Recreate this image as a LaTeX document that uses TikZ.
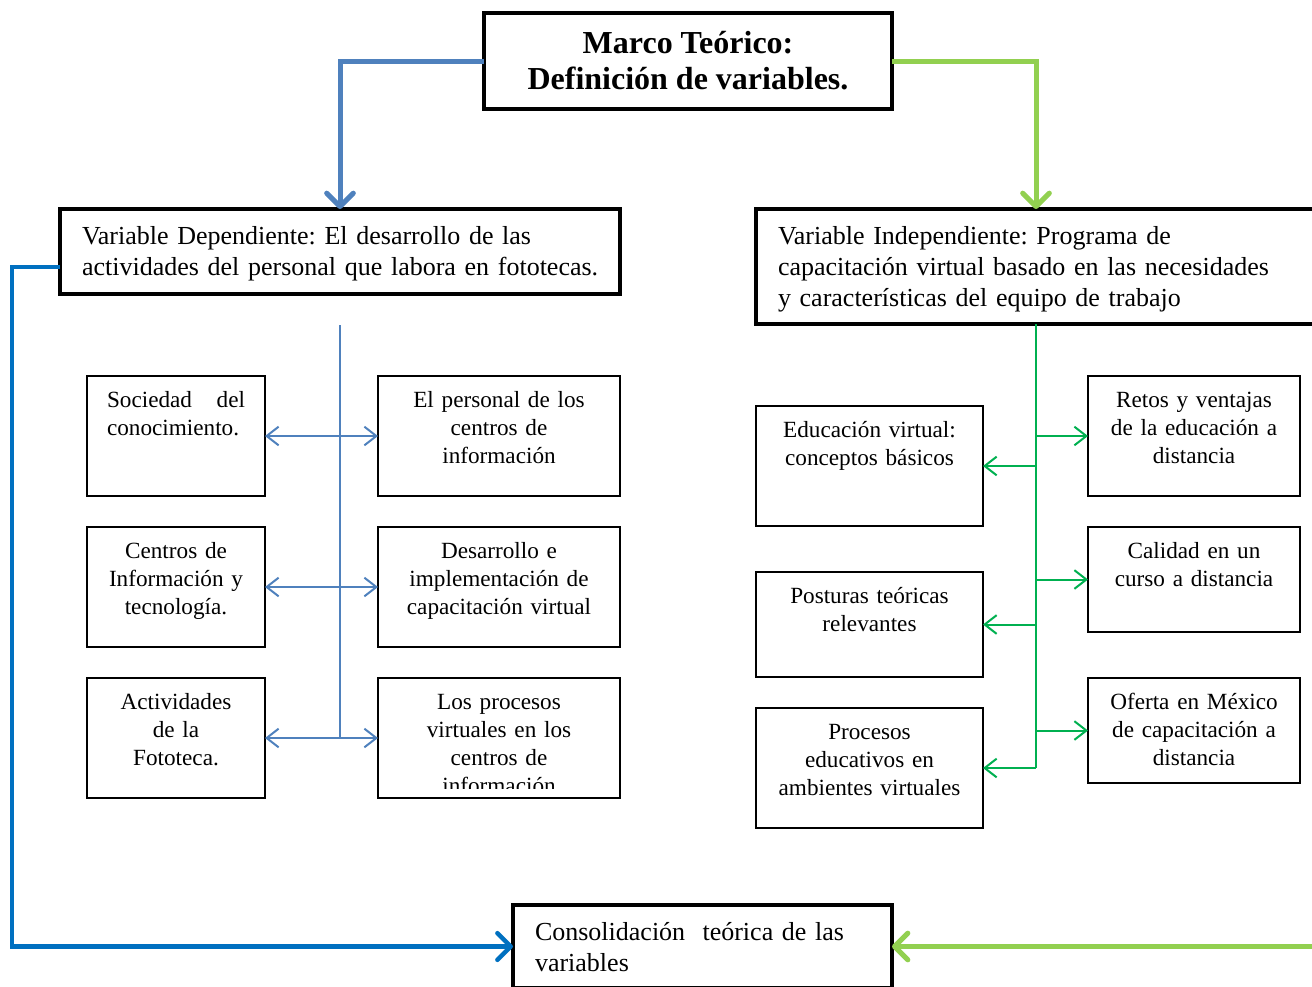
\documentclass[tikz,border=0pt]{standalone}
\usepackage{fontspec}
\setmainfont{Liberation Serif}
\usetikzlibrary{arrows.meta}
\definecolor{myblue}{HTML}{4F81BD}
\definecolor{mydarkblue}{HTML}{0070C0}
\definecolor{mylightgreen}{HTML}{92D050}
\definecolor{mygreen}{HTML}{00B050}
\tikzset{
	titlenode/.style={
			draw=black,
			line width=2.4pt,
			outer sep=0pt,
			minimum width=306pt,
			minimum height=72pt,
			align=center,
			font=\fontsize{24}{27}\selectfont\bfseries
		},
	varnode/.style={
			draw=black,
			line width=2.4pt,
			outer sep=0pt,
			anchor=north west,
			inner xsep=16.5pt,
			inner ysep=0pt,
			text width=387pt,
			text height=26.25pt,
			align=left,
			font=\fontsize{19.5}{23.25}\selectfont
		},
	cellnode/.style={
			draw=black,
			line width=1pt,
			outer sep=0pt,
			anchor=north west,
			inner xsep=6pt,
			inner ysep=0pt,
			text height=23.5pt,
			text depth=66.5pt,
			align=center,
			font=\fontsize{17.4}{21}\selectfont
		},
	leftcell/.style={cellnode, inner xsep=15pt, text width=103.5pt},
	midcell/.style={cellnode, text width=169.5pt},
	rleftcell/.style={cellnode, text width=158.25pt},
	rrightcell/.style={cellnode, text width=147pt},
	shortcell/.style={text depth=55.25pt},
	bigblue/.style={
			draw=myblue,
			line width=3.75pt,
			-{Straight Barb[length=10pt,width=20pt,round]}
		},
	loopblue/.style={
			draw=mydarkblue,
			line width=3.4pt,
			-{Straight Barb[length=10pt,width=20pt,round]}
		},
	biggreen/.style={
			draw=mylightgreen,
			line width=3.75pt,
			-{Straight Barb[length=10pt,width=20pt,round]}
		},
	thinblue/.style={draw=myblue, line width=1.5pt},
	thingreen/.style={draw=mygreen, line width=1.5pt},
	thintip/.style={-{Straight Barb[length=9pt,width=14pt]}},
	thintips/.style={{Straight Barb[length=9pt,width=14pt]}-{Straight Barb[length=9pt,width=14pt]}}
}

\begin{document}
\frenchspacing
\hyphenpenalty=10000
\begin{tikzpicture}[x=0.75pt, y=-0.75pt]
\useasboundingbox (0,0) rectangle (1312,986);
\clip (0,0) rectangle (1312,986);

% main boxes
\node[titlenode] (title) at (688,61) {Marco Teórico:\\Definición de variables.};
\node[varnode, text depth=37.5pt] (vdep) at (60,209)
  {\mbox{Variable Dependiente: El desarrollo de las}\\\mbox{actividades del personal que labora en fototecas.}};
\node[varnode, text depth=60pt] (vind) at (756,209)
  {\mbox{Variable Independiente: Programa de}\\\mbox{capacitación virtual basado en las necesidades}\\\mbox{y características del equipo de trabajo}};
\node[varnode, text width=251.25pt, text depth=36pt] (cons) at (513,905)
  {\mbox{Consolidación~ teórica de las}\\variables};

% left side
\node[leftcell, align=justify] (l1) at (87,376) {Sociedad del conocimiento.};
\node[leftcell] (l2) at (87,527) {Centros de\\Información y\\tecnología.};
\node[leftcell] (l3) at (87,678) {Actividades\\de la\\Fototeca.};
\node[midcell] (m1) at (378,376) {El personal de los\\centros de\\información};
\node[midcell] (m2) at (378,527) {Desarrollo e\\implementación de\\capacitación virtual};
\begin{scope}
  \clip (378,678) rectangle (620,788);
  \node[midcell] (m3txt) at (378,678) {Los procesos\\virtuales en los\\centros de\\información};
\end{scope}
\node[midcell] (m3) at (378,678) {};

% right side
\node[rleftcell] (e1) at (756,406) {Educación virtual:\\conceptos básicos};
\node[rleftcell, shortcell] (e2) at (756,572) {Posturas teóricas\\relevantes};
\node[rleftcell] (e3) at (756,708) {Procesos\\educativos en\\ambientes virtuales};
\node[rrightcell] (r1) at (1088,376) {Retos y ventajas\\de la educación a\\distancia};
\node[rrightcell, shortcell] (r2) at (1088,527) {Calidad en un\\curso a distancia};
\node[rrightcell, shortcell] (r3) at (1088,678) {Oferta en México\\de capacitación a\\distancia};

\coordinate (lcorner) at (12,946.5);
\coordinate (gin) at (1330,946.5);

% connectors
\draw[bigblue] (title.west) -| (vdep.north);
\draw[biggreen] (title.east) -| (vind.north);
\draw[loopblue] ([yshift=-11.6pt]vdep.west) -| (lcorner) -- (cons.west);
\draw[biggreen] (gin) -- (cons.east);

\draw[thinblue, thintips] (l1) -- (m1);
\draw[thinblue, thintips] (l2) -- (m2);
\draw[thinblue, thintips] (l3) -- (m3);
\draw[thinblue] ([yshift=-23.25pt]vdep.south) -- (vdep.south |- l3);

\draw[thingreen, line width=2pt] (vind.south) -- (vind.south |- e3);
\draw[thingreen, thintip] (vind.south |- e1) -- (e1);
\draw[thingreen, thintip] (vind.south |- e2) -- (e2);
\draw[thingreen, thintip] (vind.south |- e3) -- (e3);
\draw[thingreen, thintip] (vind.south |- r1) -- (r1);
\draw[thingreen, thintip] (vind.south |- r2) -- (r2);
\draw[thingreen, thintip] (vind.south |- r3) -- (r3);
\end{tikzpicture}
\end{document}
